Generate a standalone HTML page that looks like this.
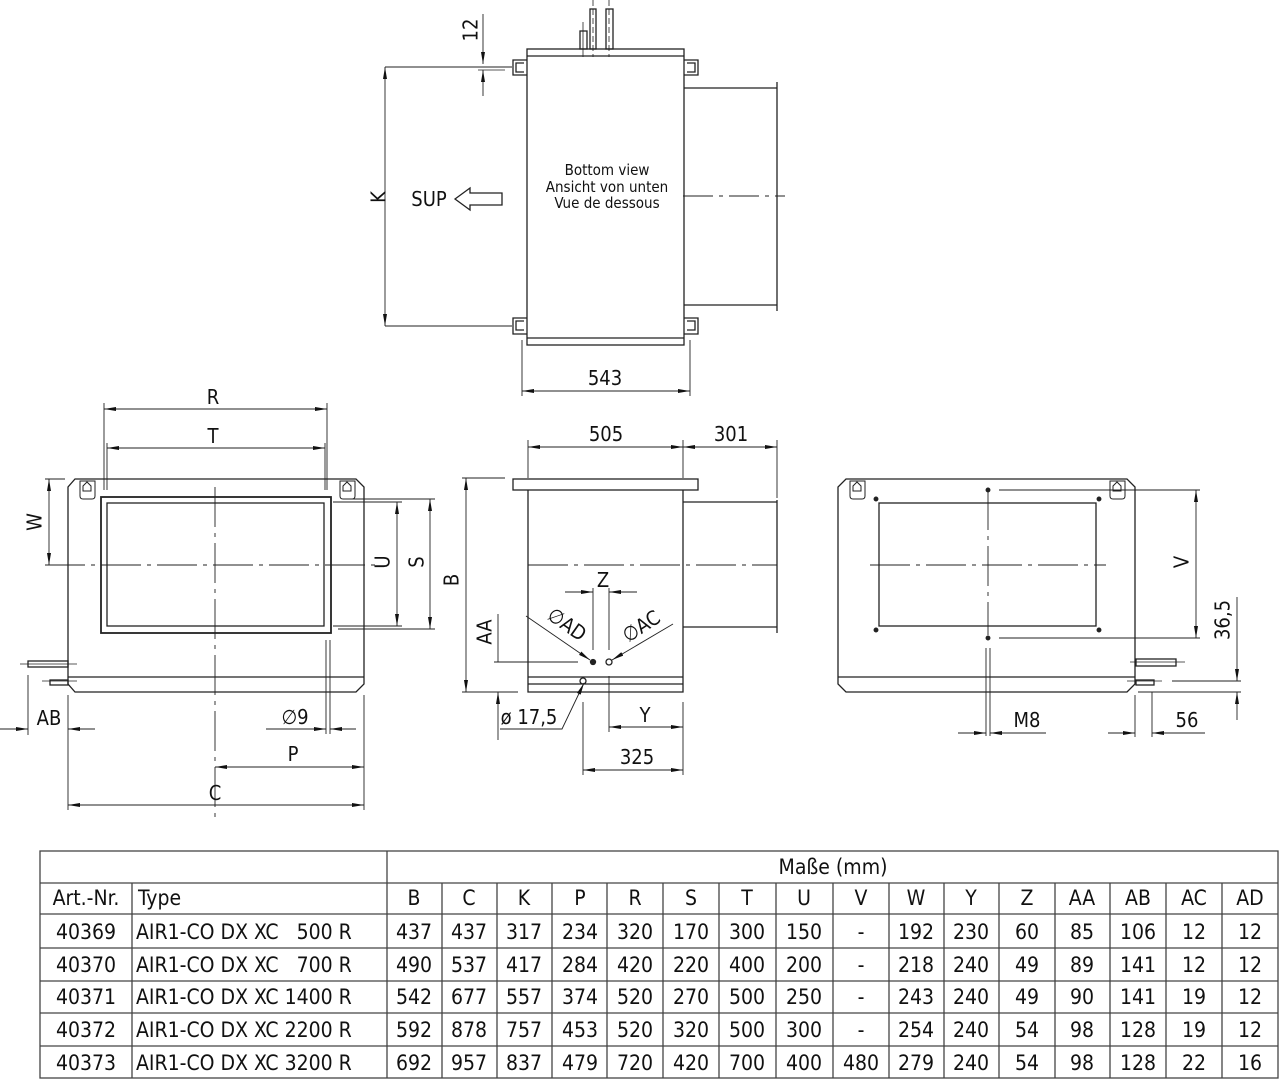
<!DOCTYPE html>
<html><head><meta charset="utf-8"><style>
html,body{margin:0;padding:0;background:#fff;}
svg{display:block}
text{font-family:"DejaVu Sans Condensed","DejaVu Sans","Liberation Sans",sans-serif;fill:#111;white-space:pre}
</style></head><body>
<svg width="1279" height="1080" viewBox="0 0 1279 1080" xmlns="http://www.w3.org/2000/svg" xml:space="preserve">
<defs>
<marker id="a" viewBox="0 0 12 4" refX="12" refY="2" markerWidth="12" markerHeight="4" markerUnits="userSpaceOnUse" orient="auto-start-reverse"><path d="M0,0 L12,2 L0,4z" fill="#111"/></marker>
</defs>
<g stroke="#222" stroke-width="1.3" fill="none">
<!-- TOP VIEW -->
<rect x="527" y="49" width="157" height="296"/>
<line x1="527" y1="56" x2="684" y2="56"/>
<line x1="527" y1="338" x2="684" y2="338"/>
<rect x="580" y="31" width="7" height="18"/><rect x="590" y="9" width="6" height="40"/><rect x="606" y="9" width="7" height="40"/>
<line x1="583" y1="22" x2="583" y2="57" stroke-width="0.8"/><line x1="593" y1="0" x2="593" y2="57" stroke-width="0.8" stroke-dasharray="6 3"/><line x1="609" y1="0" x2="609" y2="57" stroke-width="0.8" stroke-dasharray="6 3"/>
<path d="M527,60 h-14 v15 h14 M524,63 h-8 v9 h8"/>
<path d="M527,318 h-14 v16 h14 M524,321 h-8 v9 h8"/>
<path d="M684,60 h14 v15 h-14 M687,63 h8 v9 h-8"/>
<path d="M684,318 h14 v16 h-14 M687,321 h8 v9 h-8"/>
<path d="M684,88 H777 M684,305 H777 M777,82 V311"/>
<path d="M683,196 H785" stroke-width="0.9" stroke-dasharray="30 6 4 6"/>
<line x1="385" y1="67" x2="512" y2="67" stroke-width="0.9"/>
<line x1="385" y1="326" x2="512" y2="326" stroke-width="0.9"/>
<line x1="385" y1="67" x2="385" y2="326" stroke-width="0.9" marker-start="url(#a)" marker-end="url(#a)"/>
<line x1="483" y1="14" x2="483" y2="64" stroke-width="0.9" marker-end="url(#a)"/>
<line x1="483" y1="96" x2="483" y2="70" stroke-width="0.9" marker-end="url(#a)"/>
<line x1="478" y1="70" x2="505" y2="70" stroke-width="0.8"/>
<path d="M455,199 L470,188 V193 H502 V205 H470 V210 Z"/>
<line x1="522" y1="340" x2="522" y2="396" stroke-width="0.9"/><line x1="690" y1="340" x2="690" y2="396" stroke-width="0.9"/>
<line x1="522" y1="391" x2="690" y2="391" stroke-width="0.9" marker-start="url(#a)" marker-end="url(#a)"/>

<!-- LEFT VIEW -->
<path d="M75,479 H356 L364,487 V684 L356,692 H75 L68,684 V487 Z"/>
<line x1="68" y1="677" x2="364" y2="677"/>
<rect x="101" y="497" width="230" height="136" stroke-width="1.8"/>
<rect x="107" y="503" width="217" height="123"/>
<path d="M80,481 h15 v15 q0,3 -3,3 h-9 q-3,0 -3,-3z M83,486 l4,-4 l4,4 v5 h-8z" stroke-width="1"/>
<path d="M340,481 h15 v15 q0,3 -3,3 h-9 q-3,0 -3,-3z M343,486 l4,-4 l4,4 v5 h-8z" stroke-width="1"/>
<path d="M45,565 H375" stroke-width="0.9" stroke-dasharray="40 6 4 6"/>
<path d="M215,487 V820" stroke-width="0.9" stroke-dasharray="40 6 4 6"/>
<rect x="28" y="661" width="40" height="6"/><rect x="50" y="680" width="18" height="5"/>
<line x1="20" y1="664" x2="77" y2="664" stroke-width="0.7"/><line x1="42" y1="681" x2="77" y2="681" stroke-width="0.7"/>
<line x1="104" y1="403" x2="104" y2="490" stroke-width="0.9"/><line x1="327" y1="403" x2="327" y2="490" stroke-width="0.9"/>
<line x1="104" y1="409" x2="327" y2="409" stroke-width="0.9" marker-start="url(#a)" marker-end="url(#a)"/>
<line x1="107" y1="443" x2="107" y2="490" stroke-width="0.9"/><line x1="325" y1="443" x2="325" y2="490" stroke-width="0.9"/>
<line x1="107" y1="448" x2="325" y2="448" stroke-width="0.9" marker-start="url(#a)" marker-end="url(#a)"/>
<line x1="45" y1="479" x2="65" y2="479" stroke-width="0.9"/>
<line x1="49" y1="479" x2="49" y2="565" stroke-width="0.9" marker-start="url(#a)" marker-end="url(#a)"/>
<line x1="333" y1="502" x2="402" y2="502" stroke-width="0.9"/><line x1="333" y1="626" x2="402" y2="626" stroke-width="0.9"/>
<line x1="397" y1="502" x2="397" y2="626" stroke-width="0.9" marker-start="url(#a)" marker-end="url(#a)"/>
<line x1="352" y1="499" x2="435" y2="499" stroke-width="0.9"/><line x1="338" y1="629" x2="435" y2="629" stroke-width="0.9"/>
<line x1="430" y1="499" x2="430" y2="629" stroke-width="0.9" marker-start="url(#a)" marker-end="url(#a)"/>
<line x1="326" y1="640" x2="326" y2="734" stroke-width="0.9"/><line x1="330" y1="640" x2="330" y2="734" stroke-width="0.9"/>
<line x1="266" y1="729" x2="326" y2="729" stroke-width="0.9" marker-end="url(#a)"/>
<line x1="356" y1="729" x2="330" y2="729" stroke-width="0.9" marker-end="url(#a)"/>
<line x1="28" y1="675" x2="28" y2="735" stroke-width="0.9"/>
<line x1="68" y1="695" x2="68" y2="810" stroke-width="0.9"/>
<line x1="0" y1="729" x2="28" y2="729" stroke-width="0.9" marker-end="url(#a)"/>
<line x1="95" y1="729" x2="68" y2="729" stroke-width="0.9" marker-end="url(#a)"/>
<line x1="364" y1="695" x2="364" y2="810" stroke-width="0.9"/>
<line x1="215" y1="767" x2="364" y2="767" stroke-width="0.9" marker-start="url(#a)" marker-end="url(#a)"/>
<line x1="68" y1="805" x2="364" y2="805" stroke-width="0.9" marker-start="url(#a)" marker-end="url(#a)"/>

<!-- MIDDLE VIEW -->
<rect x="513" y="479" width="185" height="11"/>
<path d="M528,490 V692 H683 V490"/>
<line x1="528" y1="677" x2="683" y2="677"/><line x1="528" y1="684" x2="683" y2="684"/>
<path d="M683,502 H777 M683,627 H777 M777,500 V633"/>
<path d="M528,565 H777" stroke-width="0.9" stroke-dasharray="40 6 4 6"/>
<line x1="528" y1="440" x2="528" y2="478" stroke-width="0.9"/><line x1="683" y1="440" x2="683" y2="478" stroke-width="0.9"/><line x1="777" y1="440" x2="777" y2="498" stroke-width="0.9"/>
<line x1="528" y1="447" x2="683" y2="447" stroke-width="0.9" marker-start="url(#a)" marker-end="url(#a)"/>
<line x1="683" y1="447" x2="777" y2="447" stroke-width="0.9" marker-start="url(#a)" marker-end="url(#a)"/>
<line x1="462" y1="478" x2="505" y2="478" stroke-width="0.9"/><line x1="462" y1="692" x2="518" y2="692" stroke-width="0.9"/>
<line x1="466" y1="478" x2="466" y2="692" stroke-width="0.9" marker-start="url(#a)" marker-end="url(#a)"/>
<line x1="593" y1="588" x2="593" y2="650" stroke-width="0.9"/><line x1="609" y1="588" x2="609" y2="650" stroke-width="0.9"/>
<line x1="565" y1="592" x2="593" y2="592" stroke-width="0.9" marker-end="url(#a)"/>
<line x1="637" y1="592" x2="609" y2="592" stroke-width="0.9" marker-end="url(#a)"/>
<circle cx="593" cy="662" r="2.5" fill="#222"/><circle cx="609" cy="662" r="3"/><circle cx="583" cy="681" r="3"/>
<line x1="526" y1="616" x2="590" y2="660" stroke-width="0.9" marker-end="url(#a)"/>
<line x1="673" y1="624" x2="612" y2="660" stroke-width="0.9" marker-end="url(#a)"/>
<line x1="494" y1="662" x2="578" y2="662" stroke-width="0.9"/>
<line x1="498" y1="614" x2="498" y2="662" stroke-width="0.9"/>
<line x1="498" y1="740" x2="498" y2="692" stroke-width="0.9" marker-end="url(#a)"/>
<path d="M500,729 H562 L584,683" stroke-width="0.9" marker-end="url(#a)"/>
<line x1="583" y1="702" x2="583" y2="775" stroke-width="0.9"/><line x1="609" y1="676" x2="609" y2="732" stroke-width="0.9"/><line x1="683" y1="702" x2="683" y2="775" stroke-width="0.9"/>
<line x1="609" y1="727" x2="683" y2="727" stroke-width="0.9" marker-start="url(#a)" marker-end="url(#a)"/>
<line x1="583" y1="770" x2="683" y2="770" stroke-width="0.9" marker-start="url(#a)" marker-end="url(#a)"/>

<!-- RIGHT VIEW -->
<path d="M846,479 H1127 L1135,487 V684 L1127,692 H846 L838,684 V487 Z"/>
<line x1="838" y1="677" x2="1135" y2="677"/>
<rect x="879" y="503" width="217" height="123"/>
<circle cx="876" cy="499" r="1.8" fill="#222"/><circle cx="1099" cy="499" r="1.8" fill="#222"/><circle cx="876" cy="630" r="1.8" fill="#222"/><circle cx="1099" cy="630" r="1.8" fill="#222"/>
<circle cx="988" cy="490" r="1.8" fill="#222"/><circle cx="988" cy="638" r="1.8" fill="#222"/>
<path d="M850,481 h15 v15 q0,3 -3,3 h-9 q-3,0 -3,-3z M853,486 l4,-4 l4,4 v5 h-8z" stroke-width="1"/>
<path d="M1110,481 h15 v15 q0,3 -3,3 h-9 q-3,0 -3,-3z M1113,486 l4,-4 l4,4 v5 h-8z" stroke-width="1"/>
<path d="M870,565 H1106" stroke-width="0.9" stroke-dasharray="40 6 4 6"/>
<path d="M988,490 V635" stroke-width="0.9" stroke-dasharray="40 6 4 6"/>
<line x1="986" y1="648" x2="986" y2="736" stroke-width="0.9"/><line x1="990" y1="648" x2="990" y2="736" stroke-width="0.9"/>
<rect x="1136" y="659" width="40" height="7"/><rect x="1136" y="680" width="18" height="5"/>
<line x1="1130" y1="662" x2="1185" y2="662" stroke-width="0.7"/><line x1="1127" y1="681" x2="1162" y2="681" stroke-width="0.7"/>
<line x1="999" y1="490" x2="1200" y2="490" stroke-width="0.9"/><line x1="999" y1="638" x2="1200" y2="638" stroke-width="0.9"/>
<line x1="1196" y1="490" x2="1196" y2="638" stroke-width="0.9" marker-start="url(#a)" marker-end="url(#a)"/>
<line x1="1172" y1="681" x2="1241" y2="681" stroke-width="0.9"/><line x1="1138" y1="692" x2="1241" y2="692" stroke-width="0.9"/>
<line x1="1237" y1="597" x2="1237" y2="681" stroke-width="0.9" marker-end="url(#a)"/>
<line x1="1237" y1="720" x2="1237" y2="692" stroke-width="0.9" marker-end="url(#a)"/>
<line x1="958" y1="733" x2="986" y2="733" stroke-width="0.9" marker-end="url(#a)"/>
<line x1="1046" y1="733" x2="990" y2="733" stroke-width="0.9" marker-end="url(#a)"/>
<line x1="1135" y1="695" x2="1135" y2="737" stroke-width="0.9"/><line x1="1152" y1="692" x2="1152" y2="737" stroke-width="0.9"/>
<line x1="1108" y1="733" x2="1135" y2="733" stroke-width="0.9" marker-end="url(#a)"/>
<line x1="1205" y1="733" x2="1152" y2="733" stroke-width="0.9" marker-end="url(#a)"/>
</g>

<g font-size="20" text-anchor="middle">
<text x="380" y="197" transform="rotate(-90 380 197)" dominant-baseline="middle">K</text>
<text x="472" y="30" transform="rotate(-90 472 30)" dominant-baseline="middle">12</text>
<text x="429" y="206">SUP</text>
<text x="605" y="385">543</text>
<text x="213" y="404">R</text>
<text x="213" y="443">T</text>
<text x="36" y="522" transform="rotate(-90 36 522)" dominant-baseline="middle">W</text>
<text x="384" y="562" transform="rotate(-90 384 562)" dominant-baseline="middle">U</text>
<text x="418" y="562" transform="rotate(-90 418 562)" dominant-baseline="middle">S</text>
<text x="295" y="724">∅9</text>
<text x="49" y="725">AB</text>
<text x="293" y="761">P</text>
<text x="215" y="800">C</text>
<text x="606" y="441">505</text>
<text x="731" y="441">301</text>
<text x="453" y="580" transform="rotate(-90 453 580)" dominant-baseline="middle">B</text>
<text x="603" y="587">Z</text>
<text x="563" y="630" transform="rotate(35 563 630)">∅AD</text>
<text x="645" y="632" transform="rotate(-33 645 632)">∅AC</text>
<text x="486" y="632" transform="rotate(-90 486 632)" dominant-baseline="middle">AA</text>
<text x="529" y="724">ø 17,5</text>
<text x="645" y="722">Y</text>
<text x="637" y="764">325</text>
<text x="1183" y="562" transform="rotate(-90 1183 562)" dominant-baseline="middle">V</text>
<text x="1224" y="620" transform="rotate(-90 1224 620)" dominant-baseline="middle">36,5</text>
<text x="1027" y="727">M8</text>
<text x="1187" y="727">56</text>
</g>
<g font-size="15" text-anchor="middle">
<text x="607" y="175">Bottom view</text>
<text x="607" y="192">Ansicht von unten</text>
<text x="607" y="208">Vue de dessous</text>
</g>

<g stroke="#444" stroke-width="1.3" fill="none">
<rect x="40" y="851" width="1238" height="227"/>
<line x1="40" y1="883" x2="1278" y2="883"/>
<line x1="40" y1="914" x2="1278" y2="914"/>
<line x1="40" y1="948" x2="1278" y2="948"/>
<line x1="40" y1="981" x2="1278" y2="981"/>
<line x1="40" y1="1013" x2="1278" y2="1013"/>
<line x1="40" y1="1046" x2="1278" y2="1046"/>
<line x1="132" y1="883" x2="132" y2="1078"/>
<line x1="387" y1="851" x2="387" y2="1078"/>
<line x1="442" y1="883" x2="442" y2="1078"/><line x1="497" y1="883" x2="497" y2="1078"/><line x1="552" y1="883" x2="552" y2="1078"/><line x1="607" y1="883" x2="607" y2="1078"/><line x1="663" y1="883" x2="663" y2="1078"/><line x1="719" y1="883" x2="719" y2="1078"/><line x1="776" y1="883" x2="776" y2="1078"/><line x1="833" y1="883" x2="833" y2="1078"/><line x1="889" y1="883" x2="889" y2="1078"/><line x1="944" y1="883" x2="944" y2="1078"/><line x1="999" y1="883" x2="999" y2="1078"/><line x1="1055" y1="883" x2="1055" y2="1078"/><line x1="1110" y1="883" x2="1110" y2="1078"/><line x1="1166" y1="883" x2="1166" y2="1078"/><line x1="1222" y1="883" x2="1222" y2="1078"/>
</g>
<g font-size="21" text-anchor="middle">
<text x="833" y="874">Maße (mm)</text>
<text x="86" y="905">Art.-Nr.</text>
<text x="138" y="905" text-anchor="start">Type</text>
<g>
<text x="414" y="905">B</text><text x="469" y="905">C</text><text x="524" y="905">K</text><text x="580" y="905">P</text><text x="635" y="905">R</text><text x="691" y="905">S</text><text x="747" y="905">T</text><text x="804" y="905">U</text><text x="861" y="905">V</text><text x="916" y="905">W</text><text x="971" y="905">Y</text><text x="1027" y="905">Z</text><text x="1082" y="905">AA</text><text x="1138" y="905">AB</text><text x="1194" y="905">AC</text><text x="1250" y="905">AD</text>
</g>
<g>
<text x="86" y="939">40369</text><text x="136" y="939" text-anchor="start">AIR1-CO DX XC   500 R</text>
<text x="414" y="939">437</text><text x="469" y="939">437</text><text x="524" y="939">317</text><text x="580" y="939">234</text><text x="635" y="939">320</text><text x="691" y="939">170</text><text x="747" y="939">300</text><text x="804" y="939">150</text><text x="861" y="939">-</text><text x="916" y="939">192</text><text x="971" y="939">230</text><text x="1027" y="939">60</text><text x="1082" y="939">85</text><text x="1138" y="939">106</text><text x="1194" y="939">12</text><text x="1250" y="939">12</text>
</g>
<g>
<text x="86" y="972">40370</text><text x="136" y="972" text-anchor="start">AIR1-CO DX XC   700 R</text>
<text x="414" y="972">490</text><text x="469" y="972">537</text><text x="524" y="972">417</text><text x="580" y="972">284</text><text x="635" y="972">420</text><text x="691" y="972">220</text><text x="747" y="972">400</text><text x="804" y="972">200</text><text x="861" y="972">-</text><text x="916" y="972">218</text><text x="971" y="972">240</text><text x="1027" y="972">49</text><text x="1082" y="972">89</text><text x="1138" y="972">141</text><text x="1194" y="972">12</text><text x="1250" y="972">12</text>
</g>
<g>
<text x="86" y="1004">40371</text><text x="136" y="1004" text-anchor="start">AIR1-CO DX XC 1400 R</text>
<text x="414" y="1004">542</text><text x="469" y="1004">677</text><text x="524" y="1004">557</text><text x="580" y="1004">374</text><text x="635" y="1004">520</text><text x="691" y="1004">270</text><text x="747" y="1004">500</text><text x="804" y="1004">250</text><text x="861" y="1004">-</text><text x="916" y="1004">243</text><text x="971" y="1004">240</text><text x="1027" y="1004">49</text><text x="1082" y="1004">90</text><text x="1138" y="1004">141</text><text x="1194" y="1004">19</text><text x="1250" y="1004">12</text>
</g>
<g>
<text x="86" y="1037">40372</text><text x="136" y="1037" text-anchor="start">AIR1-CO DX XC 2200 R</text>
<text x="414" y="1037">592</text><text x="469" y="1037">878</text><text x="524" y="1037">757</text><text x="580" y="1037">453</text><text x="635" y="1037">520</text><text x="691" y="1037">320</text><text x="747" y="1037">500</text><text x="804" y="1037">300</text><text x="861" y="1037">-</text><text x="916" y="1037">254</text><text x="971" y="1037">240</text><text x="1027" y="1037">54</text><text x="1082" y="1037">98</text><text x="1138" y="1037">128</text><text x="1194" y="1037">19</text><text x="1250" y="1037">12</text>
</g>
<g>
<text x="86" y="1070">40373</text><text x="136" y="1070" text-anchor="start">AIR1-CO DX XC 3200 R</text>
<text x="414" y="1070">692</text><text x="469" y="1070">957</text><text x="524" y="1070">837</text><text x="580" y="1070">479</text><text x="635" y="1070">720</text><text x="691" y="1070">420</text><text x="747" y="1070">700</text><text x="804" y="1070">400</text><text x="861" y="1070">480</text><text x="916" y="1070">279</text><text x="971" y="1070">240</text><text x="1027" y="1070">54</text><text x="1082" y="1070">98</text><text x="1138" y="1070">128</text><text x="1194" y="1070">22</text><text x="1250" y="1070">16</text>
</g>
</g>
</svg>
</body></html>
